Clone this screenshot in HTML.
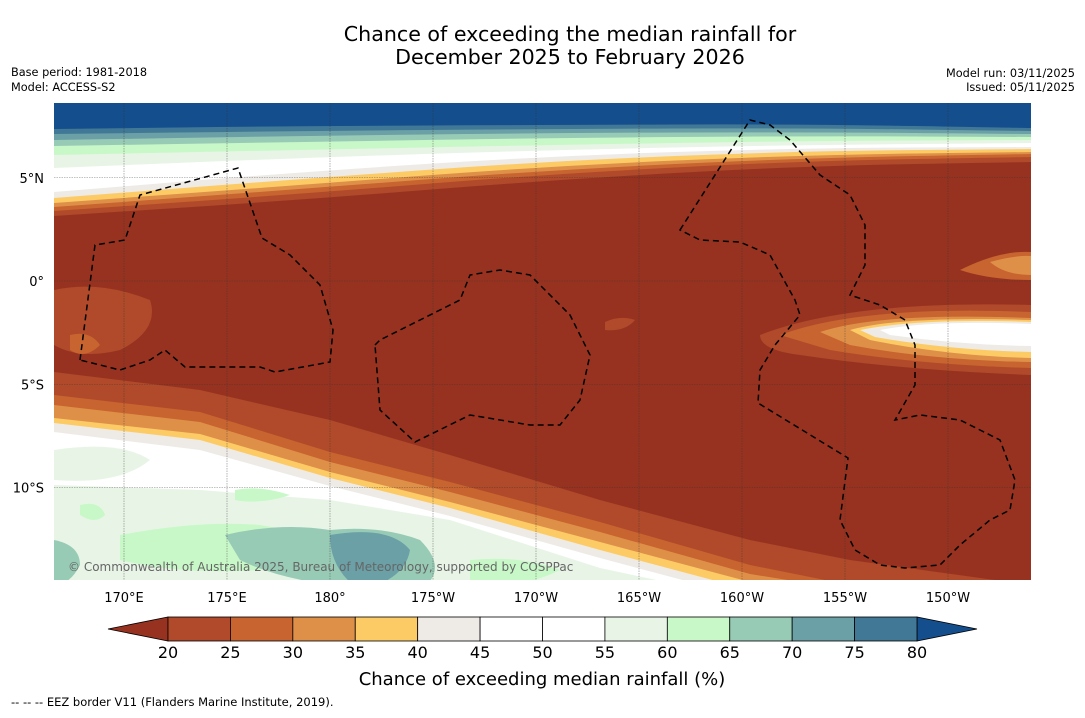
<!DOCTYPE html>
<html><head><meta charset="utf-8">
<style>
body{margin:0;background:#fff;font-family:"Liberation Sans","DejaVu Sans",sans-serif;}
svg text{font-family:"DejaVu Sans","Liberation Sans",sans-serif;}
</style></head>
<body>
<svg id="chart" width="1085" height="713" viewBox="0 0 1085 713" xmlns="http://www.w3.org/2000/svg">
<rect width="1085" height="713" fill="#fff"/>
<text x="570" y="41" font-size="20.6" text-anchor="middle">Chance of exceeding the median rainfall for</text>
<text x="570" y="64" font-size="20.6" text-anchor="middle">December 2025 to February 2026</text>
<text x="11" y="76" font-size="11.3">Base period: 1981-2018</text>
<text x="11" y="91" font-size="11.3">Model: ACCESS-S2</text>
<text x="1075" y="77" font-size="11.3" text-anchor="end">Model run: 03/11/2025</text>
<text x="1075" y="91" font-size="11.3" text-anchor="end">Issued: 05/11/2025</text>
<defs><clipPath id="mc"><rect x="54" y="103" width="977" height="477"/></clipPath></defs>
<g id="map" clip-path="url(#mc)"></g>
<g id="grid"></g>
<g id="eez"></g>
<text x="68" y="571" font-size="12" fill="#666">© Commonwealth of Australia 2025, Bureau of Meteorology, supported by COSPPac</text>
<g id="axes"></g>
<g id="cbar"></g>
<text x="542" y="685" font-size="18" text-anchor="middle">Chance of exceeding median rainfall (%)</text>
<text x="11" y="706" font-size="11.5">--  --  -- EEZ border V11 (Flanders Marine Institute, 2019).</text>
</svg>
<script>
const NS='http://www.w3.org/2000/svg';
const lonTicks=[170,175,180,-175,-170,-165,-160,-155,-150];
const lonLabels=['170°E','175°E','180°','175°W','170°W','165°W','160°W','155°W','150°W'];
const latTicks=[5,0,-5,-10];
const latLabels=['5°N','0°','5°S','10°S'];
const cbTicks=[20,25,30,35,40,45,50,55,60,65,70,75,80];
const cbColors=['#b04a2a','#c8642f','#df9048','#fdcb66','#eeebe6','#ffffff','#ffffff','#e8f5e6','#c8f8c8','#98cbb6','#6aa0a6','#417896'];
const lowColor='#973220', highColor='#144e8c';
function xLon(l){const e=l<0?l+360:l;return 124+(e-170)*20.6;}
function yLat(l){return 281-l*20.65;}
function mk(tag,attrs,parent){const el=document.createElementNS(NS,tag);for(const k in attrs)el.setAttribute(k,attrs[k]);parent.appendChild(el);return el;}
const map=document.getElementById('map');
const bg=mk('rect',{x:54,y:103,width:977,height:477,fill:lowColor},map);


const xs=[54,300,550,800,1031];
function topFill(ys,c,name){
 let d='M54,100 L1031,100 L1031,'+ys[4];
 for(let i=3;i>=0;i--){const mx=(xs[i]+xs[i+1])/2;d+=' Q'+xs[i+1]+','+ys[i+1]+' '+mx+','+((ys[i]+ys[i+1])/2);}
 d+=' L54,'+ys[0]+' Z';
 const p=mk('path',{d:d,fill:c},map);}
topFill([216,200,180,166,162],'#b04a2a','north-band-20');
topFill([211,194,174,161,157],'#c8642f','north-band-25');
topFill([207,189,170,158,154],'#df9048','north-band-30');
topFill([203,185,166,155,152],'#fdcb66','north-band-35');
topFill([198,179,161,151,149],'#eeebe6','north-band-40');
topFill([192,172,156,148,147],'#ffffff','north-band-white');
topFill([168,158,150,145,143],'#e8f5e6','north-band-55');
topFill([155,150,145,141,140],'#c8f8c8','north-band-60');
topFill([146,142,138,136,137],'#98cbb6','north-band-65');
topFill([140,136,133,132,134],'#6aa0a6','north-band-70');
topFill([134,131,129,128,131],'#417896','north-band-75');
topFill([129,126,125,124,128],highColor,'north-band-80');
const sx=[54,200,330,450,600,750,850,1031];
function botFill(ys,c,name){let d='M54,600 L54,'+ys[0];
 for(let i=1;i<sx.length;i++)d+=' L'+sx[i]+','+ys[i];
 d+=' L1031,600 Z';
 const p=mk('path',{d:d,fill:c},map);}
botFill([372,390,420,455,500,540,560,585],'#b04a2a','south-band-20');
botFill([395,412,452,482,522,565,585,595],'#c8642f','south-band-25');
botFill([405,422,462,492,532,574,590,600],'#df9048','south-band-30');
botFill([418,434,472,502,542,582,596,600],'#fdcb66','south-band-35');
botFill([423,440,478,508,550,590,600,600],'#eeebe6','south-band-40');
botFill([432,450,486,516,558,598,600,600],'#ffffff','south-band-white');
botFill([485,490,500,520,568,600,600,600],'#e8f5e6','south-band-55');
function blob(d,c,name){const p=mk('path',{d:d,fill:c},map);}
blob('M54,450 Q120,440 150,460 Q120,485 54,480 Z','#e8f5e6','green-patch-a');
blob('M80,505 Q100,500 105,515 Q95,525 80,515 Z','#c8f8c8','green-patch-b');
blob('M120,535 Q200,520 260,525 Q320,535 350,545 Q330,560 260,570 Q180,575 120,560 Z','#c8f8c8','green-patch-c');
blob('M225,535 Q280,522 330,530 Q380,525 420,540 Q450,570 420,590 Q300,590 240,560 Z','#98cbb6','teal-patch-a');
blob('M330,535 Q390,525 410,550 Q405,580 360,590 Q330,570 330,535 Z','#6aa0a6','teal-patch-b');
blob('M235,490 Q260,485 290,495 Q260,505 235,500 Z','#c8f8c8','green-patch-d');
blob('M54,540 Q80,545 80,565 Q70,585 54,585 Z','#98cbb6','teal-patch-c');
blob('M470,560 Q520,555 560,570 Q520,590 470,585 Z','#c8f8c8','green-patch-e');
blob('M760,335 Q850,300 1031,305 L1031,375 Q900,370 800,355 Q760,350 760,335 Z','#b04a2a','tongue-20');
blob('M780,335 Q860,305 1031,312 L1031,368 Q920,365 830,350 Z','#c8642f','tongue-25');
blob('M820,332 Q880,312 1031,318 L1031,362 Q930,360 850,345 Z','#df9048','tongue-30');
blob('M850,330 Q900,316 1031,320 L1031,358 Q950,356 870,340 Z','#fdcb66','tongue-35');
blob('M860,330 Q920,318 1031,322 L1031,352 Q950,350 875,337 Z','#eeebe6','tongue-40');
blob('M880,330 Q930,320 1031,324 L1031,346 Q960,345 890,335 Z','#ffffff','tongue-white');
blob('M960,270 Q1000,250 1031,252 L1031,280 Q990,280 960,270 Z','#c8642f','orange-patch-ne');
blob('M990,262 Q1015,255 1031,256 L1031,275 Q1005,275 990,262 Z','#df9048','orange-patch-ne2');
blob('M54,290 Q100,280 150,300 Q160,330 120,350 Q80,360 54,345 Z','#b04a2a','brown-patch-w');
blob('M70,335 Q90,330 100,345 Q85,360 70,350 Z','#c8642f','orange-patch-w');
blob('M605,322 Q620,315 635,320 Q625,332 605,330 Z','#b04a2a','brown-patch-c');
const grid=document.getElementById('grid');
lonTicks.forEach(l=>{const x=xLon(l);const ln=mk('line',{x1:x,x2:x,y1:103,y2:580,stroke:'#333','stroke-width':0.6,'stroke-dasharray':'1.5,1','stroke-opacity':0.6},grid);
});
latTicks.forEach(l=>{const y=yLat(l);const ln=mk('line',{x1:54,x2:1031,y1:y,y2:y,stroke:'#333','stroke-width':0.6,'stroke-dasharray':'1.5,1','stroke-opacity':0.6},grid);
});
const eez=document.getElementById('eez');
const eezPaths=[
'M80,360 L95,245 L125,240 L140,195 L238,168 L262,238 L290,255 L320,285 L333,330 L330,362 L275,372 L260,367 L185,367 L165,350 L150,360 L120,370 Z',
'M375,345 L380,340 L460,300 L470,275 L500,270 L530,275 L570,315 L590,355 L580,400 L560,425 L530,425 L470,415 L415,442 L380,410 Z',
'M680,230 L750,120 L770,125 L790,140 L820,175 L850,195 L865,225 L865,265 L850,295 L880,305 L905,320 L915,345 L915,385 L895,420 L920,415 L960,420 L1000,440 L1015,480 L1010,510 L990,520 L960,545 L940,565 L905,568 L880,565 L855,550 L840,520 L848,458 L758,403 L760,370 L775,345 L800,315 L795,300 L770,255 L740,242 L700,240 Z'];
eezPaths.forEach(d=>{const p=mk('path',{d:d,fill:'none',stroke:'#000','stroke-width':1.5,'stroke-dasharray':'6,4'},eez);
});
const axes=document.getElementById('axes');
lonTicks.forEach((l,i)=>{const t=mk('text',{x:xLon(l),y:602,'font-size':13,'text-anchor':'middle'},axes);t.textContent=lonLabels[i];
});
latTicks.forEach((l,i)=>{const t=mk('text',{x:44,y:yLat(l)+5,'font-size':13,'text-anchor':'end'},axes);t.textContent=latLabels[i];
});
const cb=document.getElementById('cbar');
const cx0=168,cx1=917,cy=617,ch=24;const cw=(cx1-cx0)/cbColors.length;
function cbX(v){return cx0+(v-cbTicks[0])/(cbTicks[cbTicks.length-1]-cbTicks[0])*(cx1-cx0);}
const lt=mk('polygon',{points:`108,${cy+ch/2} ${cx0},${cy} ${cx0},${cy+ch}`,fill:lowColor,stroke:'#000','stroke-width':0.8},cb);

const rt=mk('polygon',{points:`977,${cy+ch/2} ${cx1},${cy} ${cx1},${cy+ch}`,fill:highColor,stroke:'#000','stroke-width':0.8},cb);

cbColors.forEach((c,i)=>{const r=mk('rect',{x:cbX(cbTicks[i]),y:cy,width:cw,height:ch,fill:c,stroke:'#000','stroke-width':0.8},cb);
});
cbTicks.forEach(v=>{const t=mk('text',{x:cbX(v),y:658,'font-size':16,'text-anchor':'middle'},cb);t.textContent=v;
});
</script>
</body></html>
